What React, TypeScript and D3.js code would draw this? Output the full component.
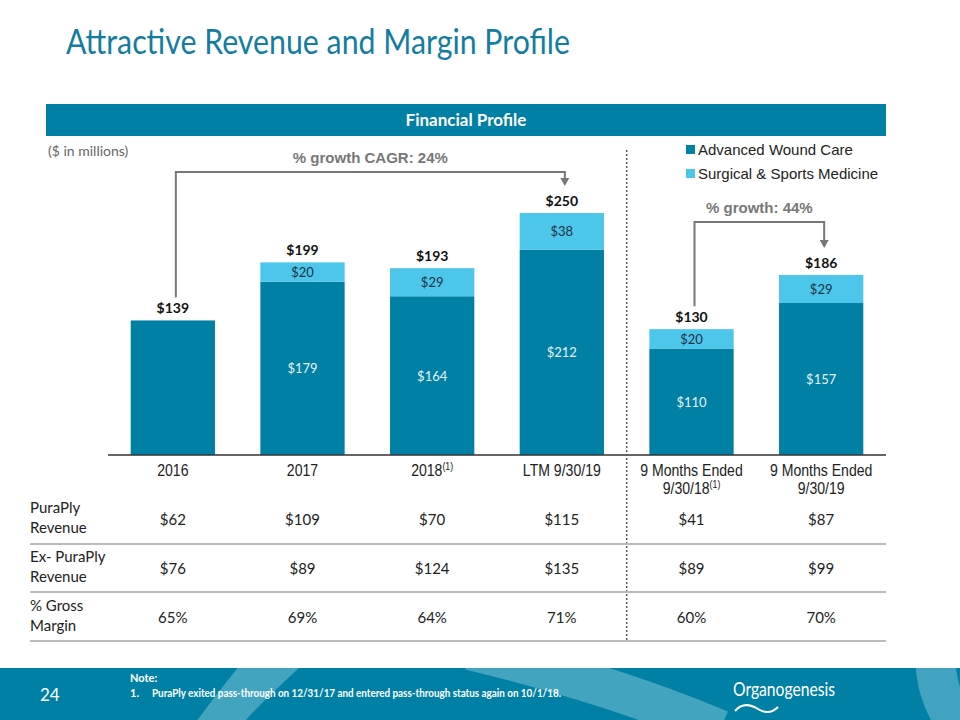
import * as d3 from "d3";

// chart data (US$ millions)
const categories = ["2016", "2017", "2018", "LTM 9/30/19", "9M 9/30/18", "9M 9/30/19"];
const categoryLines = [
  ["2016"],
  ["2017"],
  ["2018"],
  ["LTM 9/30/19"],
  ["9 Months Ended", "9/30/18"],
  ["9 Months Ended", "9/30/19"],
];
const footnoted = [false, false, true, false, true, false];
const advancedWoundCare = [139, 179, 164, 212, 110, 157];
const surgicalSports = [0, 20, 29, 38, 20, 29];
const totals = [139, 199, 193, 250, 130, 186];

const tableRows = ["PuraPly|Revenue", "Ex- PuraPly|Revenue", "% Gross|Margin"];
const puraPlyRevenue = ["$62", "$109", "$70", "$115", "$41", "$87"];
const exPuraPlyRevenue = ["$76", "$89", "$124", "$135", "$89", "$99"];
const grossMargin = ["65%", "69%", "64%", "71%", "60%", "70%"];

const seriesNames = ["Advanced Wound Care", "Surgical & Sports Medicine"];

const DARK = "#0080a4";
const LIGHT = "#4cc6ea";
const CAL = "Lato, 'Open Sans', sans-serif";
const ARIAL = "'Liberation Sans', Arial, sans-serif";

export default function App() {
  const width = 960;
  const height = 720;
  const baseY = 455;

  const x = d3.scaleBand<string>().domain(categories).range([108, 886]).paddingInner(0.35).paddingOuter(0.175);
  const y = d3.scaleLinear().domain([0, 250]).range([baseY, 213]);

  const stackData = categories.map((c, i) => ({
    cat: c,
    awc: advancedWoundCare[i],
    ssm: surgicalSports[i],
  }));
  const stack = d3.stack<any>().keys(["awc", "ssm"]);
  const layers = stack(stackData);
  const colors = [DARK, LIGHT];

  const cx = (i: number) => (x(categories[i]) as number) + x.bandwidth() / 2;
  const dividerX = (cx(3) + cx(4)) / 2;

  const tableValues = [puraPlyRevenue, exPuraPlyRevenue, grossMargin];
  const rowTop = [498, 547, 596];
  const rowLines = [544, 592, 641];

  const bracket = (from: number, to: number, topY: number, label: string) => {
    const x1 = cx(from) + 3;
    const x2 = cx(to) + 3;
    const legEnd = y(totals[from]) - 23;
    const tip = y(totals[to]) - 27;
    return (
      <g>
        <path
          d={`M${x1},${legEnd}V${topY}H${x2}V${tip - 7}`}
          fill="none"
          stroke="#777"
          strokeWidth={2}
        />
        <path d={`M${x2 - 4.5},${tip - 8}L${x2 + 4.5},${tip - 8}L${x2},${tip}Z`} fill="#777" />
        <text
          x={(x1 + x2) / 2}
          y={topY - 9}
          textAnchor="middle"
          fontFamily={ARIAL}
          fontWeight="bold"
          fontSize={15}
          fill="#777"
        >
          {label}
        </text>
      </g>
    );
  };

  return (
    <svg
      width={width}
      height={height}
      style={{ position: "absolute", left: 0, top: 0, background: "#fff" }}
    >
      {/* title */}
      <text x={66} y={54} fontFamily={CAL} fontSize={34} fill="#137d9f" textLength={504} lengthAdjust="spacingAndGlyphs">
        Attractive Revenue and Margin Profile
      </text>

      {/* header bar */}
      <rect x={46} y={104} width={840} height={32} fill={DARK} />
      <text x={466} y={126} textAnchor="middle" fontFamily={CAL} fontWeight="bold" fontSize={17} fill="#fff">
        Financial Profile
      </text>
      <text x={48} y={156} fontFamily={CAL} fontSize={14} fill="#666">
        ($ in millions)
      </text>

      {/* legend */}
      {seriesNames.map((s, i) => (
        <g key={s} transform={`translate(686, ${145 + i * 24})`}>
          <rect width={9} height={9} fill={colors[i]} />
          <text x={12} y={10} fontFamily={ARIAL} fontSize={15} fill="#222">
            {s}
          </text>
        </g>
      ))}

      {/* bars */}
      {layers.map((layer, li) => (
        <g key={li} fill={colors[li]}>
          {layer.map((d, i) =>
            d[1] - d[0] > 0 ? (
              <rect
                key={i}
                x={x(categories[i])}
                y={y(d[1])}
                width={x.bandwidth()}
                height={y(d[0]) - y(d[1])}
              />
            ) : null
          )}
        </g>
      ))}

      {/* segment labels */}
      {layers.map((layer, li) =>
        layer.map((d, i) => {
          const v = d[1] - d[0];
          if (v <= 0 || surgicalSports[i] === 0) return null;
          return (
            <text
              key={`${li}-${i}`}
              x={cx(i)}
              y={(y(d[0]) + y(d[1])) / 2 + 5}
              textAnchor="middle"
              fontFamily={CAL}
              fontSize={13}
              fill={li === 0 ? "#e6f3f7" : "#1d3344"}
            >
              ${v}
            </text>
          );
        })
      )}

      {/* totals */}
      {totals.map((t, i) => (
        <text
          key={i}
          x={cx(i)}
          y={y(t) - 7}
          textAnchor="middle"
          fontFamily={CAL}
          fontWeight="bold"
          fontSize={14}
          fill="#111"
        >
          ${t}
        </text>
      ))}

      {/* growth brackets */}
      {bracket(0, 3, 172, "% growth CAGR: 24%")}
      {bracket(4, 5, 222, "% growth: 44%")}

      {/* baseline */}
      <line x1={108} x2={886} y1={baseY} y2={baseY} stroke="#333" strokeWidth={1.5} />

      {/* divider */}
      <line x1={dividerX} x2={dividerX} y1={150} y2={640} stroke="#555" strokeWidth={1.5} strokeDasharray="2,2" />

      {/* category labels (narrow face) */}
      {categoryLines.map((lines, i) =>
        lines.map((ln, j) => (
          <text
            key={`${i}-${j}`}
            transform={`translate(${cx(i)}, ${476 + j * 18}) scale(0.88, 1)`}
            textAnchor="middle"
            fontFamily={ARIAL}
            fontSize={16}
            fill="#222"
          >
            {ln}
            {footnoted[i] && j === lines.length - 1 ? (
              <tspan fontSize={10} dy={-6}>
                (1)
              </tspan>
            ) : null}
          </text>
        ))
      )}

      {/* table */}
      {tableRows.map((r, ri) => (
        <g key={r}>
          {r.split("|").map((ln, j) => (
            <text key={j} x={30} y={rowTop[ri] + 15 + j * 20} fontFamily={CAL} fontSize={15} fill="#222">
              {ln}
            </text>
          ))}
          {tableValues[ri].map((v, i) => (
            <text
              key={i}
              x={cx(i)}
              y={rowTop[ri] + 27}
              textAnchor="middle"
              fontFamily={CAL}
              fontSize={15}
              fill="#222"
            >
              {v}
            </text>
          ))}
          <line x1={30} x2={886} y1={rowLines[ri]} y2={rowLines[ri]} stroke="#bcbcbc" strokeWidth={2} />
        </g>
      ))}

      {/* footer */}
      <defs>
        <clipPath id="foot">
          <rect x={0} y={668} width={960} height={52} />
        </clipPath>
      </defs>
      <rect x={0} y={668} width={960} height={52} fill={DARK} />
      <g clipPath="url(#foot)" fill="#5fb3cc" opacity={0.7}>
        <path d="M196,722 C212,700 225,684 239,666 L301,666 C282,684 262,702 244,722 Z" />
      </g>
      <g clipPath="url(#foot)" fill="none" stroke="#5fb3cc" opacity={0.7}>
        <path d="M470,650 C560,672 650,700 720,730" strokeWidth={40} />
        <path d="M935,650 C935,680 940,700 960,730" strokeWidth={40} />
      </g>
      <text x={40} y={701} fontFamily={CAL} fontSize={17} fill="#fff">
        24
      </text>
      <text x={130} y={682} fontFamily={CAL} fontWeight="bold" fontSize={11} fill="#fff">
        Note:
      </text>
      <text x={130} y={697} fontFamily={CAL} fontWeight="bold" fontSize={11} fill="#fff">
        1.
      </text>
      <text
        x={152}
        y={697}
        fontFamily={CAL}
        fontWeight="bold"
        fontSize={11}
        fill="#fff"
        textLength={409}
        lengthAdjust="spacingAndGlyphs"
      >
        PuraPly exited pass-through on 12/31/17 and entered pass-through status again on 10/1/18.
      </text>
      <text x={733} y={696} fontFamily={CAL} fontSize={20} fill="#fff" textLength={102} lengthAdjust="spacingAndGlyphs">
        Organogenesis
      </text>
      <path d="M735,711 C742,703 750,704 758,709 C766,714 772,713 778,707" fill="none" stroke="#fff" strokeWidth={2} />
    </svg>
  );
}
